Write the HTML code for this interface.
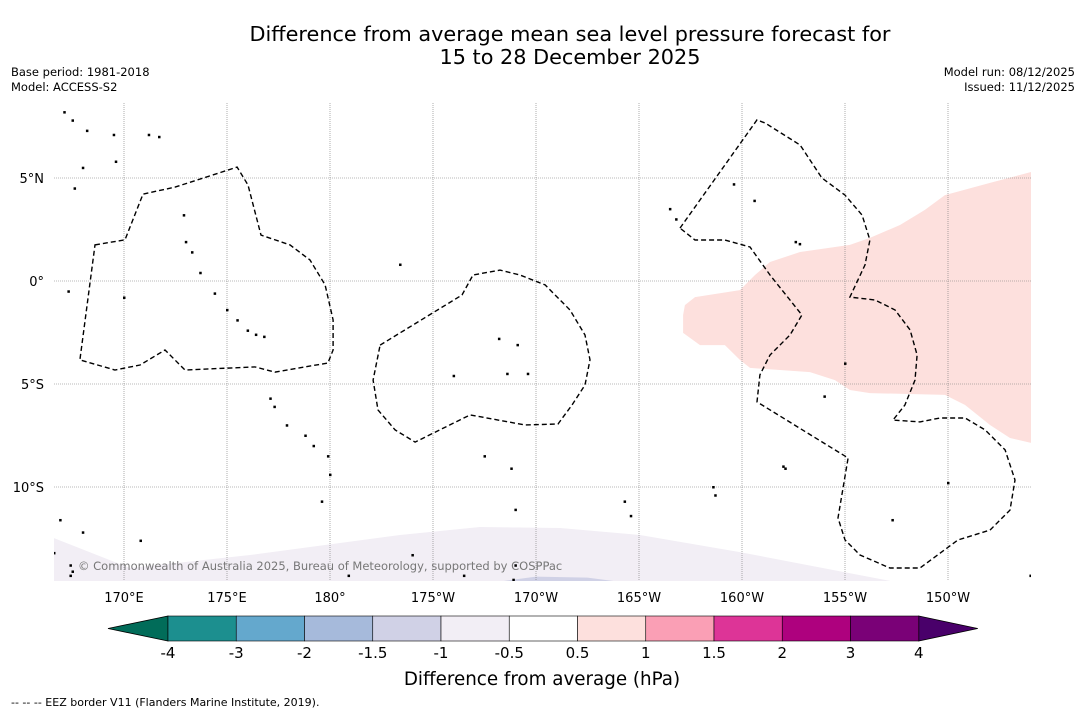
<!DOCTYPE html>
<html><head><meta charset="utf-8">
<style>
html,body{margin:0;padding:0;background:#fff;}
body{width:1085px;height:713px;overflow:hidden;font-family:"Liberation Sans","DejaVu Sans",sans-serif;}
svg text{font-family:"DejaVu Sans","Liberation Sans",sans-serif;}
</style></head>
<body>
<svg id="chart" width="1085" height="713" xmlns="http://www.w3.org/2000/svg">
<text x="570" y="41" font-size="20.8" text-anchor="middle" fill="#000">Difference from average mean sea level pressure forecast for</text>
<text x="570" y="64" font-size="20.8" text-anchor="middle" fill="#000">15 to 28 December 2025</text>
<text x="11" y="76" font-size="11.5">Base period: 1981-2018</text>
<text x="11" y="91" font-size="11.5">Model: ACCESS-S2</text>
<text x="1075" y="76" font-size="11.5" text-anchor="end">Model run: 08/12/2025</text>
<text x="1075" y="91" font-size="11.5" text-anchor="end">Issued: 11/12/2025</text>
<defs><clipPath id="mapclip"><rect x="54" y="103" width="977" height="478"/></clipPath></defs>
<g id="map" clip-path="url(#mapclip)">
<rect x="54" y="103" width="977" height="478" fill="#fff"/>
<g id="fills"></g><g id="grid"></g><g id="islands"></g><g id="eez"></g>
<text x="78" y="570" font-size="11.5" fill="#777">© Commonwealth of Australia 2025, Bureau of Meteorology, supported by COSPPac</text>
</g>
<g id="axes"></g>
<g id="colorbar"></g>
<text x="542" y="685" font-size="18.3" text-anchor="middle">Difference from average (hPa)</text>
<text x="11" y="706" font-size="11">--  --  -- EEZ border V11 (Flanders Marine Institute, 2019).</text>
</svg>
<script>
const lonTicks=[170,175,180,185,190,195,200,205,210];
const lonLabels=["170°E","175°E","180°","175°W","170°W","165°W","160°W","155°W","150°W"];
const latTicks=[5,0,-5,-10];
const latLabels=["5°N","0°","5°S","10°S"];
const cbLevels=["-4","-3","-2","-1.5","-1","-0.5","0.5","1","1.5","2","3","4"];
const cbColors=["#1c8f8f","#64a8cd","#a6badb","#d0d1e6","#f2eef5","#ffffff","#fde0dd","#fa9fb5","#dd3497","#ae017e","#7a0177"];
const cbExtLow="#016c59", cbExtHigh="#49006a";
const eezGilbert=[[168.59,1.75],[170.05,2.0],[170.92,4.22],[172.48,4.56],[175.49,5.53],[176.02,4.66],[176.65,2.23],[178.06,1.75],[179.03,1.02],[179.76,-0.19],[180.15,-1.89],[180.15,-3.35],[179.9,-3.98],[177.33,-4.42],[176.36,-4.17],[172.96,-4.32],[171.99,-3.35],[170.78,-4.08],[169.56,-4.32],[167.86,-3.83]];
const eezPhoenix=[[182.43,-3.11],[186.41,-0.68],[186.94,0.29],[188.25,0.53],[189.22,0.29],[190.44,-0.19],[191.65,-1.41],[192.38,-2.62],[192.62,-3.83],[192.38,-5.05],[191.75,-6.02],[191.07,-6.94],[189.47,-6.99],[186.8,-6.5],[184.13,-7.82],[183.16,-7.23],[182.33,-6.26],[182.09,-4.81]];
const eezLine=[[196.99,2.57],[200.73,7.82],[201.12,7.67],[202.82,6.6],[203.88,5.0],[205.0,4.17],[205.83,3.2],[206.21,1.99],[205.97,0.78],[205.24,-0.78],[206.46,-0.92],[207.43,-1.41],[208.16,-2.38],[208.5,-3.59],[208.4,-4.81],[207.91,-6.02],[207.33,-6.75],[208.64,-6.84],[209.61,-6.65],[210.83,-6.65],[211.8,-7.23],[212.77,-8.2],[213.25,-9.66],[213.01,-11.12],[212.04,-12.09],[210.49,-12.57],[208.64,-13.93],[207.18,-13.93],[205.73,-13.3],[205.0,-12.57],[204.66,-11.5],[205.15,-8.59],[200.73,-5.87],[200.87,-4.56],[201.36,-3.59],[202.33,-2.62],[202.91,-1.65],[202.33,-0.92],[201.36,0.29],[200.39,1.65],[199.17,1.99],[197.72,1.99]];
const pinkRegion=[[197.14,-1.65],[197.23,-1.17],[197.72,-0.78],[199.9,-0.44],[200.63,0.29],[201.36,0.92],[202.82,1.41],[205.24,1.75],[206.21,2.09],[207.67,2.72],[208.88,3.45],[209.85,4.17],[212.04,4.76],[214.03,5.29],[214.03,-7.86],[213.01,-7.62],[212.04,-6.99],[210.83,-6.02],[209.85,-5.53],[206.21,-5.44],[205.24,-5.29],[204.51,-4.81],[203.3,-4.42],[201.84,-4.32],[200.39,-4.22],[199.9,-3.83],[199.17,-3.11],[197.96,-3.11],[197.14,-2.52]];
const lavRegion=[[166.6,-12.48],[170.29,-13.93],[176.12,-13.3],[183.4,-12.33],[187.28,-11.94],[191.17,-11.99],[195.05,-12.33],[199.9,-13.16],[207.18,-14.56],[207.18,-15],[166.6,-15]];
const blueRegion=[[186.5,-15],[187.8,-14.65],[190.0,-14.35],[192.5,-14.4],[195.2,-14.75],[195.5,-15]];
const islands=[[167.1,8.2],[167.5,7.8],[168.2,7.3],[169.5,7.1],[171.2,7.1],[171.7,7.0],[169.6,5.8],[168.0,5.5],[167.6,4.5],[172.9,3.2],[173.0,1.9],[173.3,1.4],[173.7,0.4],[174.4,-0.6],[175.0,-1.4],[175.5,-1.9],[176.4,-2.6],[176.0,-2.4],[176.8,-2.7],[170.0,-0.8],[167.3,-0.5],[183.4,0.8],[188.2,-2.8],[189.1,-3.1],[186.0,-4.6],[188.6,-4.5],[189.6,-4.5],[177.1,-5.7],[177.3,-6.1],[177.9,-7.0],[178.8,-7.5],[179.2,-8.0],[179.9,-8.5],[180.0,-9.4],[179.6,-10.7],[187.5,-8.5],[188.8,-9.1],[189.0,-11.1],[194.3,-10.7],[194.6,-11.4],[198.7,-10.4],[198.6,-10.0],[202.0,-9.0],[202.1,-9.1],[207.3,-11.6],[210.0,-9.8],[214.0,-14.3],[196.5,3.5],[196.8,3.0],[199.6,4.7],[200.6,3.9],[202.6,1.9],[202.8,1.8],[205.0,-4.0],[204.0,-5.6],[166.9,-11.6],[168.0,-12.2],[166.6,-13.2],[167.4,-13.8],[167.5,-14.1],[167.4,-14.3],[170.8,-12.6],[184.0,-13.3],[188.9,-14.5],[186.5,-14.3],[189.0,-13.8],[180.9,-14.3]];
const X=lon=>124+(lon-170)*20.6;
const Y=lat=>281-lat*20.6;
const NS="http://www.w3.org/2000/svg";
function mk(tag,attrs,parent){const e=document.createElementNS(NS,tag);for(const k in attrs)e.setAttribute(k,attrs[k]);parent.appendChild(e);return e;}
const pts=a=>a.map(p=>X(p[0]).toFixed(1)+","+Y(p[1]).toFixed(1)).join(" ");
const fills=document.getElementById("fills");
let e;
e=mk("polygon",{points:pts(lavRegion),fill:"#f2eef5"},fills);


e=mk("polygon",{points:pts(blueRegion),fill:"#d0d1e6"},fills);


e=mk("polygon",{points:pts(pinkRegion),fill:"#fde0dd"},fills);


const grid=document.getElementById("grid"), axes=document.getElementById("axes");
lonTicks.forEach((v,i)=>{
 e=mk("line",{x1:X(v),x2:X(v),y1:103,y2:581,stroke:"#777","stroke-width":0.6,"stroke-dasharray":"1,1"},grid);
 
 
 e=mk("text",{x:X(v),y:602,"font-size":13,"text-anchor":"middle"},axes);e.textContent=lonLabels[i];
 
 
});
latTicks.forEach((v,i)=>{
 e=mk("line",{x1:54,x2:1031,y1:Y(v),y2:Y(v),stroke:"#777","stroke-width":0.6,"stroke-dasharray":"1,1"},grid);
 
 
 e=mk("text",{x:44,y:Y(v)+5,"font-size":13,"text-anchor":"end"},axes);e.textContent=latLabels[i];
 
 
});
const isl=document.getElementById("islands");
islands.forEach(p=>{
 e=mk("rect",{x:X(p[0])-1,y:Y(p[1])-1,width:2.5,height:2.5,fill:"#000"},isl);
 
 
});
const eez=document.getElementById("eez");
[["eez-gilbert-islands",eezGilbert],["eez-phoenix-islands",eezPhoenix],["eez-line-islands",eezLine]].forEach(([n,a])=>{
 e=mk("polygon",{points:pts(a),fill:"none",stroke:"#000","stroke-width":1.4,"stroke-dasharray":"5,3"},eez);
 
 
});
const cb=document.getElementById("colorbar");
const cbX0=168,cbW=68.25,cbY=616,cbH=25;
e=mk("polygon",{points:`108,${cbY+cbH/2} ${cbX0},${cbY} ${cbX0},${cbY+cbH}`,fill:cbExtLow,stroke:"#000","stroke-width":0.8},cb);


const cbEnd=cbX0+cbW*cbColors.length;
e=mk("polygon",{points:`${cbEnd},${cbY} ${cbEnd+59},${cbY+cbH/2} ${cbEnd},${cbY+cbH}`,fill:cbExtHigh,stroke:"#000","stroke-width":0.8},cb);


cbColors.forEach((c,i)=>{
 e=mk("rect",{x:cbX0+i*cbW,y:cbY,width:cbW,height:cbH,fill:c,stroke:"#000","stroke-width":0.6},cb);
 
 
});
cbLevels.forEach((l,i)=>{
 e=mk("text",{x:cbX0+i*cbW,y:658,"font-size":15,"text-anchor":"middle"},cb);e.textContent=l;
 
 
});
</script>
</body></html>
